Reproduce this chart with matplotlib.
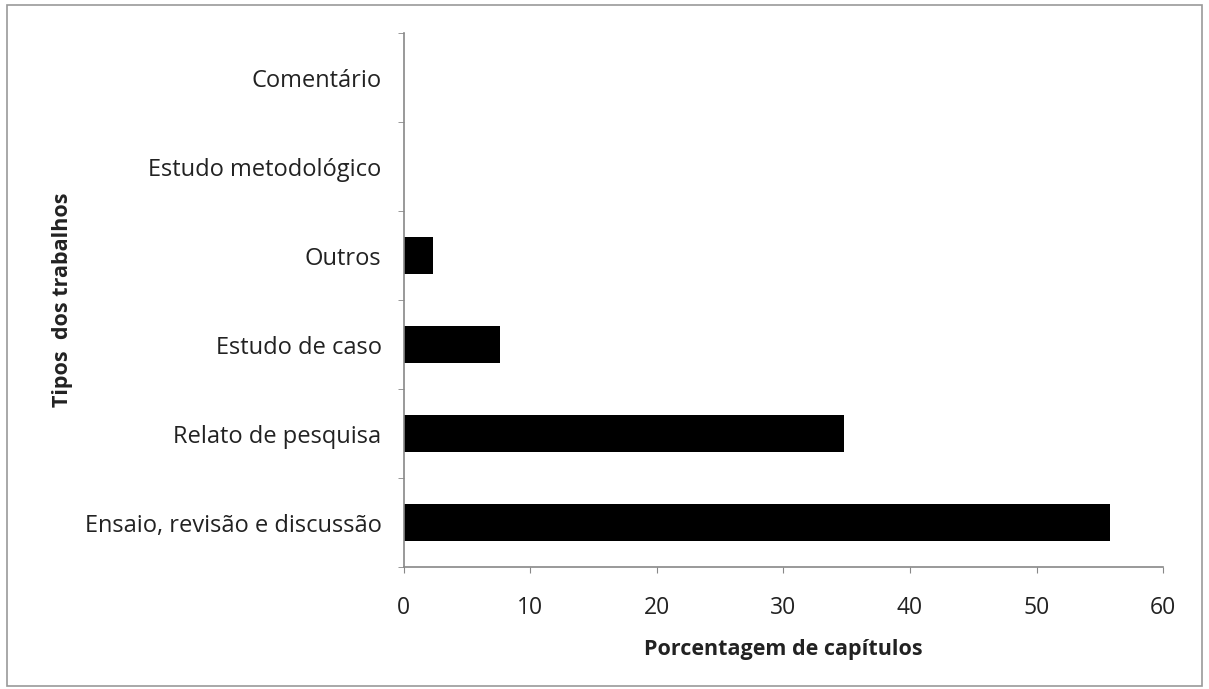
import numpy as np
import matplotlib.pyplot as plt
from matplotlib.patches import Rectangle

# Data
categorias = ["Ensaio, revisão e discussão", "Relato de pesquisa", "Estudo de caso",
              "Outros", "Estudo metodológico", "Comentário"]
porcentagem = [55.8, 34.8, 7.6, 2.3, 0, 0]
x_ticks = [0, 10, 20, 30, 40, 50, 60]

plt.rcParams['font.family'] = ['Open Sans', 'DejaVu Sans']

fig = plt.figure(figsize=(12.09, 6.89), dpi=100)
ax = fig.add_axes([0.334, 0.177, 0.628, 0.775])

y = np.arange(len(categorias))
ax.barh(y, porcentagem, height=0.42, color='black')

ax.set_xlim(0, 60)
ax.set_ylim(-0.5, len(categorias) - 0.5)
ax.set_xticks(x_ticks)
ax.set_xticklabels([str(t) for t in x_ticks], fontsize=16.5, color='#222222')
ax.set_yticks(y)
ax.set_yticklabels(categorias, fontsize=17, color='#222222')
ax.set_yticks(np.arange(len(categorias) + 1) - 0.5, minor=True)
ax.tick_params(axis='y', which='major', length=0, pad=16)
ax.tick_params(axis='y', which='minor', length=4.5, color='#888888', direction='out')
ax.tick_params(axis='x', length=4.5, color='#888888', direction='out', pad=16)

for s in ['top', 'right']:
    ax.spines[s].set_visible(False)
for s in ['left', 'bottom']:
    ax.spines[s].set_color('#888888')
    ax.spines[s].set_linewidth(1.2)

ax.set_xlabel("Porcentagem de capítulos", fontsize=15.5, fontweight='bold',
              color='#222222', labelpad=14)
fig.text(0.052, 0.565, "Tipos  dos trabalhos", rotation=90, fontsize=15.5,
         fontweight='bold', color='#222222', ha='center', va='center')

# outer grey frame
fig.patches.append(Rectangle((0.006, 0.004), 0.988, 0.989, transform=fig.transFigure,
                             fill=False, edgecolor='#999999', linewidth=1.2))

fig.savefig("out.png", dpi=100, facecolor='white')
